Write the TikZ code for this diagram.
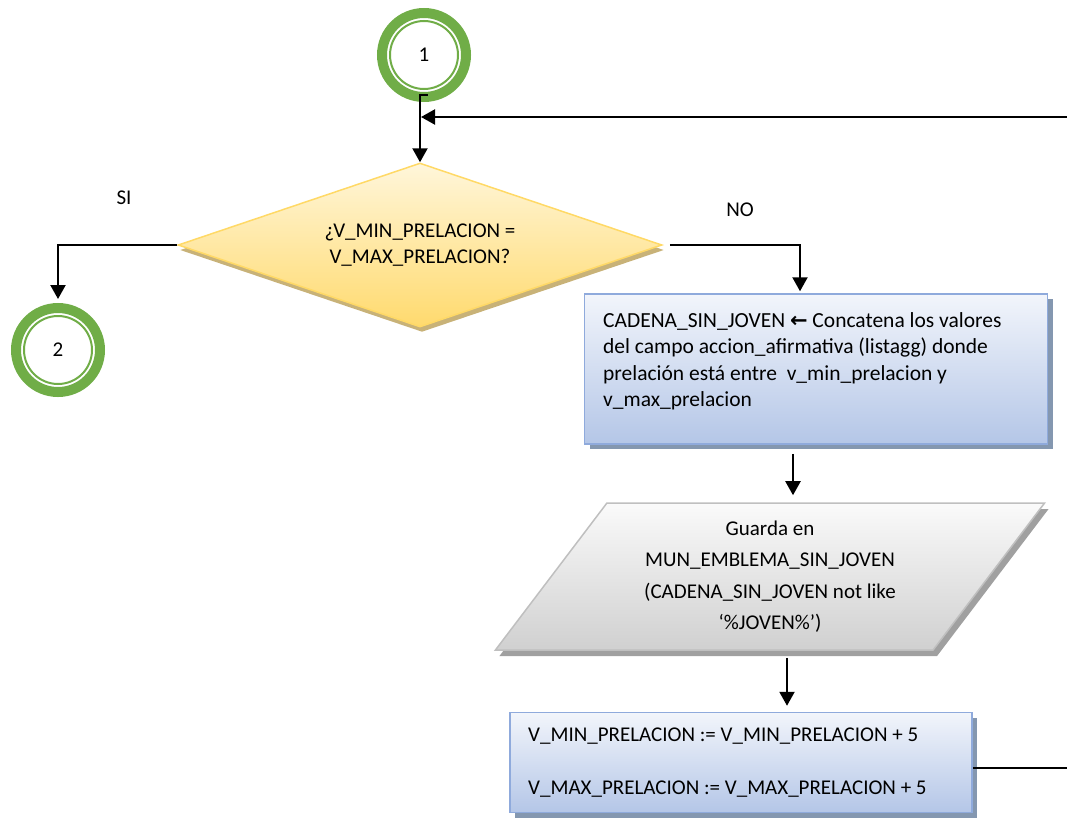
\documentclass[tikz,border=0pt]{standalone}
\usepackage{fontspec}
\setmainfont{Carlito}
\usetikzlibrary{shapes.geometric,shadows,arrows.meta}
\definecolor{ringgreen}{RGB}{112,173,71}
\definecolor{boxborder}{RGB}{143,170,220}
\definecolor{bluetop}{RGB}{242,245,251}
\definecolor{bluebot}{RGB}{180,198,231}
\definecolor{blueshadow}{RGB}{132,151,176}
\definecolor{dmdborder}{RGB}{255,217,102}
\definecolor{dmdtop}{RGB}{255,246,218}
\definecolor{dmdbot}{RGB}{255,218,110}
\definecolor{dmdshadow}{RGB}{200,178,120}
\definecolor{grayborder}{RGB}{191,191,191}
\definecolor{graytop}{RGB}{250,250,250}
\definecolor{graybot}{RGB}{208,208,208}
\definecolor{grayshadow}{RGB}{160,160,160}
\begin{document}
\begin{tikzpicture}[x=1pt,y=-1pt,
  every node/.style={font=\fontsize{21}{26}\selectfont},
  conn/.style={line width=2.2pt},
  arr/.style={line width=2.2pt,-{Triangle[length=14pt,width=15pt]}},
  ring/.style={circle, draw=ringgreen, line width=10pt, minimum size=84pt, inner sep=0pt, fill=white},
  decision/.style={diamond, aspect=2.95, draw=dmdborder, line width=1.5pt, minimum width=484pt, minimum height=164pt, inner sep=0pt, align=center, top color=dmdtop, bottom color=dmdbot, drop shadow={shadow xshift=2pt, shadow yshift=-5pt, fill=dmdshadow, opacity=1}},
  procbox/.style={rectangle, draw=boxborder, line width=1.5pt, top color=bluetop, bottom color=bluebot, drop shadow={shadow xshift=5pt, shadow yshift=-5pt, fill=blueshadow, opacity=1}},
  iobox/.style={trapezium, trapezium left angle=53, trapezium right angle=127, trapezium stretches=true, minimum width=550pt, minimum height=147pt, inner sep=2pt, align=center, draw=grayborder, line width=1.5pt, top color=graytop, bottom color=graybot, drop shadow={shadow xshift=4pt, shadow yshift=-6pt, fill=grayshadow, opacity=1}},
  txt/.style={inner sep=0pt, align=left}
]
\path[use as bounding box] (0,0) rectangle (1067,819);

% connectors endpoints
\coordinate (loopin) at (1067,117);
\coordinate (loopout) at (1067,768);
\coordinate (noturn) at (800,245);
\coordinate (tx) at (793,0);
\coordinate (tx2) at (787,0);

% nodes
\node[ring] (c1) at (424,55) {1};
\draw[ringgreen, line width=2pt] (c1.center) circle (34);
\node[ring] (c2) at (58,350) {2};
\draw[ringgreen, line width=2pt] (c2.center) circle (34);

\node[decision] (d) at (420,245) {¿V\_MIN\_PRELACION =\\V\_MAX\_PRELACION?};

\node[procbox, minimum width=463pt, minimum height=150pt] (b1) at (816,369) {};
\node[txt, anchor=north west, font=\fontsize{21.5}{26.5}\selectfont] (b1t) at (603,312) {CADENA\_SIN\_JOVEN {\fontspec{DejaVu Sans}\bfseries\fontsize{21}{26}\selectfont ←} Concatena los valores\\del campo accion\_afirmativa (listagg) donde\\prelación está entre\ \ v\_min\_prelacion y\\v\_max\_prelacion};

\node[iobox, font=\fontsize{21}{31.5}\selectfont] (p) at (770,576.5) {Guarda en\\MUN\_EMBLEMA\_SIN\_JOVEN\\(CADENA\_SIN\_JOVEN not like\\‘\%JOVEN\%’)};

\node[procbox, minimum width=462pt, minimum height=100pt] (b2) at (741,762.5) {};
\node[txt, anchor=north west] (b2t) at (528,728) {V\_MIN\_PRELACION := V\_MIN\_PRELACION + 5\\[27pt]V\_MAX\_PRELACION := V\_MAX\_PRELACION + 5};

\node (si) at (124,198) {SI};
\node (no) at (740,210) {NO};

% connectors
\draw[arr] ([shift={(4,-7)}]c1.south) -| (d.north);
\draw[arr, shorten >=1pt] (loopin) -- (loopin -| d.north);
\draw[arr, shorten >=4pt] (d.west) -| (c2.north);
\draw[arr, shorten <=7pt, shorten >=2pt] (d.east) -- (noturn) -- (noturn |- b1.north);
\draw[arr, shorten <=9pt, shorten >=7pt] (b1.south -| tx) -- (p.north -| tx);
\draw[arr, shorten <=7pt, shorten >=6pt] (p.south -| tx2) -- (b2.north -| tx2);
\draw[conn] (b2.east |- loopout) -- (loopout);
\end{tikzpicture}
\end{document}
